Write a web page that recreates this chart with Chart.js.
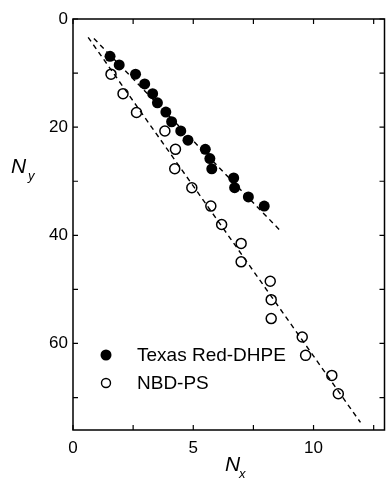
<!DOCTYPE html>
<html>
<head>
<meta charset="utf-8">
<script src="https://cdn.jsdelivr.net/npm/chart.js@4/dist/chart.umd.min.js"></script>
<style>
  html, body { margin: 0; padding: 0; background: #fff; }
  #wrap { width: 391px; height: 479px; }
</style>
</head>
<body>
<div id="wrap"><canvas id="chart" width="391" height="479"></canvas></div>
<script>
// Texas Red-DHPE (filled circles)
const texasX = [1.54, 1.92, 2.6, 2.98, 3.31, 3.51, 3.86, 4.1, 4.48, 4.78, 5.5, 5.69, 5.77, 6.68, 6.72, 7.29, 7.95];
const texasY = [6.9, 8.5, 10.2, 12.0, 13.8, 15.5, 17.2, 19.0, 20.7, 22.4, 24.1, 25.8, 27.7, 29.4, 31.2, 32.9, 34.6];
// NBD-PS (open circles)
const nbdX = [1.58, 2.08, 2.64, 3.82, 4.26, 4.23, 4.94, 5.73, 6.18, 6.99, 6.99, 8.2, 8.24, 8.24, 9.53, 9.67, 10.76, 11.03];
const nbdY = [10.2, 13.8, 17.3, 20.7, 24.1, 27.7, 31.2, 34.6, 38.0, 41.5, 44.9, 48.5, 51.9, 55.4, 58.8, 62.2, 65.9, 69.3];
// dashed fit lines (end points)
const texasFitX = [0.87, 8.61];
const texasFitY = [3.6, 39.1];
const nbdFitX = [0.63, 11.95];
const nbdFitY = [3.4, 74.6];

const xTicksLabeled = [0, 5, 10];
const yTicksLabeled = [0, 20, 40, 60];

const FONT = "'Liberation Sans', Arial, Helvetica, sans-serif";
const pts = (xs, ys) => xs.map((x, i) => ({ x, y: ys[i] }));

// frame, inward ticks, legend, axis titles
const decor = {
  id: 'decor',
  afterDraw(chart) {
    const { ctx, chartArea: a, scales } = chart;
    ctx.save();
    ctx.strokeStyle = '#000';
    ctx.lineWidth = 1.5;
    ctx.strokeRect(a.left, a.top, a.right - a.left, a.bottom - a.top);

    ctx.lineWidth = 1.2;
    const tl = 5;
    scales.x.ticks.forEach(t => {
      const px = scales.x.getPixelForValue(t.value);
      ctx.beginPath();
      ctx.moveTo(px, a.bottom); ctx.lineTo(px, a.bottom - tl);
      ctx.moveTo(px, a.top); ctx.lineTo(px, a.top + tl);
      ctx.stroke();
    });
    scales.y.ticks.forEach(t => {
      const py = scales.y.getPixelForValue(t.value);
      ctx.beginPath();
      ctx.moveTo(a.left, py); ctx.lineTo(a.left + tl, py);
      ctx.moveTo(a.right, py); ctx.lineTo(a.right - tl, py);
      ctx.stroke();
    });

    // legend
    ctx.fillStyle = '#000';
    ctx.beginPath(); ctx.arc(106, 355, 5.5, 0, Math.PI * 2); ctx.fill();
    ctx.lineWidth = 1.4;
    ctx.beginPath(); ctx.arc(106, 383, 4.5, 0, Math.PI * 2); ctx.stroke();
    ctx.font = '19px ' + FONT;
    ctx.textBaseline = 'middle';
    ctx.textAlign = 'left';
    ctx.fillText('Texas Red-DHPE', 137, 356);
    ctx.fillText('NBD-PS', 137, 384);

    // axis titles
    ctx.textBaseline = 'alphabetic';
    ctx.font = 'italic 21px ' + FONT;
    ctx.fillText('N', 11, 173);
    ctx.fillText('N', 225, 471);
    ctx.font = 'italic 13px ' + FONT;
    ctx.fillText('y', 28, 180);
    ctx.fillText('x', 239, 478);
    ctx.restore();
  }
};

new Chart(document.getElementById('chart'), {
  data: {
    datasets: [
      {
        type: 'scatter', label: 'Texas Red-DHPE', data: pts(texasX, texasY),
        pointRadius: 5.5, pointBackgroundColor: '#000', pointBorderColor: '#000', pointBorderWidth: 0
      },
      {
        type: 'scatter', label: 'NBD-PS', data: pts(nbdX, nbdY),
        pointRadius: 5, pointBackgroundColor: 'rgba(255,255,255,0)', pointBorderColor: '#000', pointBorderWidth: 1.5
      },
      {
        type: 'line', data: pts(texasFitX, texasFitY), borderColor: '#000', borderWidth: 1.4,
        borderDash: [5, 4], pointRadius: 0, fill: false
      },
      {
        type: 'line', data: pts(nbdFitX, nbdFitY), borderColor: '#000', borderWidth: 1.4,
        borderDash: [5, 4], pointRadius: 0, fill: false
      }
    ]
  },
  options: {
    responsive: false,
    animation: false,
    devicePixelRatio: 1,
    layout: { padding: { top: 19, right: 2, left: 0, bottom: 0 } },
    plugins: { legend: { display: false }, tooltip: { enabled: false } },
    scales: {
      x: {
        type: 'linear', min: 0, max: 12.95,
        grid: { display: false, drawTicks: false },
        border: { display: false },
        ticks: {
          stepSize: 2.5, includeBounds: false, autoSkip: false, maxRotation: 0, padding: 8,
          color: '#000', font: { family: FONT, size: 17 },
          callback: v => xTicksLabeled.includes(v) ? String(v) : ''
        },
        afterFit: s => { s.height = 49; }
      },
      y: {
        type: 'linear', min: 0, max: 76, reverse: true,
        grid: { display: false, drawTicks: false },
        border: { display: false },
        ticks: {
          stepSize: 10, includeBounds: false, autoSkip: false, padding: 5,
          color: '#000', font: { family: FONT, size: 17 },
          callback: v => yTicksLabeled.includes(v) ? String(v) : ''
        },
        afterFit: s => { s.width = 73; }
      }
    }
  },
  plugins: [decor]
});
</script>
</body>
</html>
